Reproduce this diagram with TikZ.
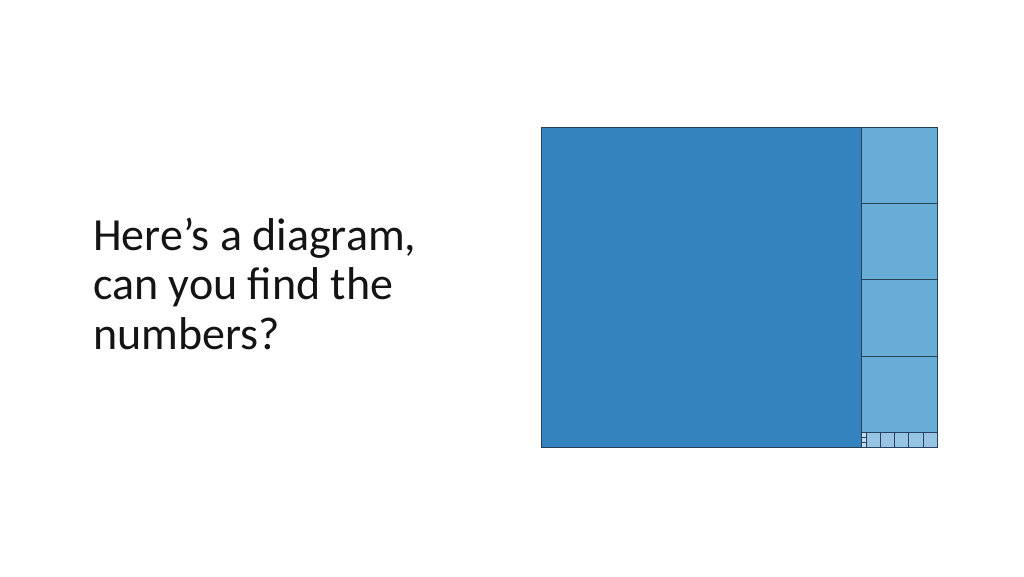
\documentclass[tikz,border=0pt]{standalone}
\usepackage{fontspec}
\setmainfont{Carlito}
\definecolor{bigblue}{RGB}{53,131,190}
\definecolor{midblue}{RGB}{104,173,214}
\definecolor{lightblue}{RGB}{150,196,226}
\definecolor{edgeblue}{RGB}{38,64,92}
\definecolor{textcol}{RGB}{20,20,20}
\tikzset{
  sq/.style={draw=edgeblue, line width=0.9pt},
}
\begin{document}
\begin{tikzpicture}[x=1pt,y=-1pt]
\useasboundingbox (0,0) rectangle (1024,576);
\fill[white] (0,0) rectangle (1024,576);
\node[anchor=base west, inner sep=0pt, align=left, text=textcol,
      font=\fontsize{46}{49.5}\selectfont] (txt) at (93,349)
  {Here’s a diagram,\\can you find the\\numbers?};
\begin{scope}[shift={(541,127)}, x=4.776pt, y=-4.776pt]
  % big square 67
  \filldraw[sq, fill=bigblue] (0,0) rectangle (67,67);
  % four squares 16
  \foreach \i in {0,1,2,3}
    \filldraw[sq, fill=midblue] (67,16*\i) rectangle (83,16*\i+16);
  % five squares 3
  \foreach \i in {0,...,4}
    \filldraw[sq, fill=lightblue] (68+3*\i,64) rectangle (71+3*\i,67);
  % three squares 1
  \foreach \i in {0,1,2}
    \filldraw[draw=edgeblue, line width=0.5pt, fill=lightblue!60!white] (67,64+\i) rectangle (68,65+\i);
  \draw[sq] (0,0) rectangle (83,67);
\end{scope}
\end{tikzpicture}
\end{document}
